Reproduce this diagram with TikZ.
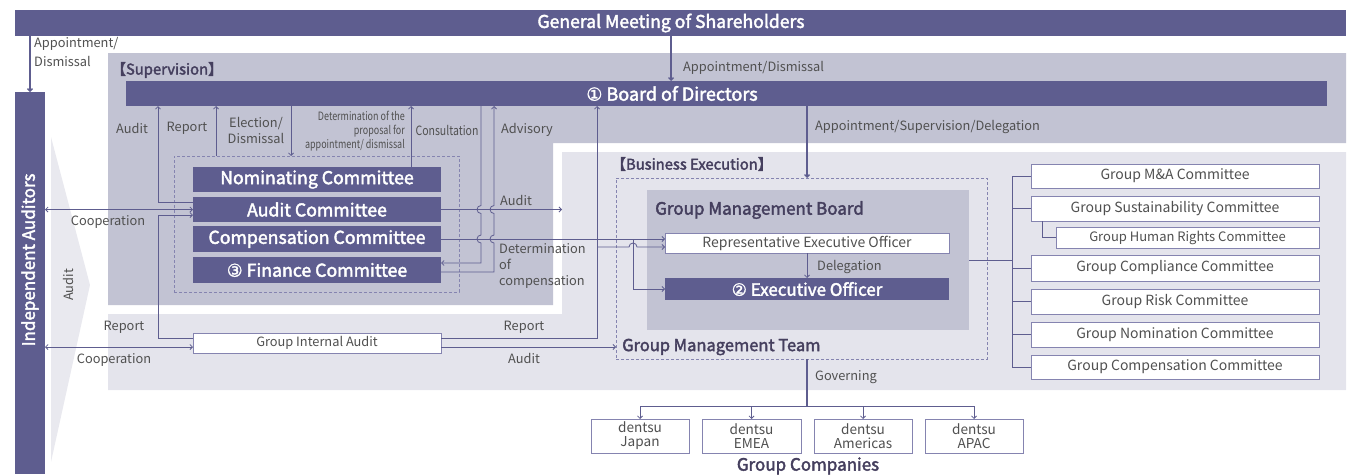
\documentclass[tikz,border=0pt]{standalone}
\usepackage{fontspec}
\setmainfont{Noto Sans CJK JP}
\newfontfamily\djv[FakeBold=1.5]{DejaVu Sans}
\newfontfamily\mfont[FakeBold=2.3]{Noto Sans CJK JP}
\usetikzlibrary{arrows.meta}
\definecolor{dk}{HTML}{5E5D8F}
\definecolor{supc}{HTML}{C2C3D3}
\definecolor{busc}{HTML}{E4E4EC}
\definecolor{chevc}{HTML}{E9E9EF}
\definecolor{lnc}{HTML}{5E5D8F}
\definecolor{bxc}{HTML}{8584B0}
\definecolor{txt}{HTML}{505050}
\definecolor{ttl}{HTML}{453F5E}
\newcommand{\fs}[1]{\fontsize{#1}{#1}\selectfont}
\newcommand{\cnum}[1]{{\djv #1}}
\tikzset{
  bar/.style={fill=dk, draw=none, inner sep=0, outer sep=0, text=white, font=\mfont\fs{17}},
  wbox/.style={fill=white, draw=bxc, line width=0.9pt, inner sep=0, outer sep=0, text=txt, font=\fs{14}},
  dbox/.style={draw=bxc, dashed, dash pattern=on 3pt off 2pt, line width=0.8pt, inner sep=0, outer sep=0},
  lab/.style={font=\fontsize{12.8}{16}\selectfont, text=txt, inner sep=0},
  ttlt/.style={font=\mfont\fs{16.5}, text=ttl, inner sep=0},
  conn/.style={draw=lnc, line width=0.8pt, >={Straight Barb[length=2.5pt,width=5pt]}},
  connT/.style={conn, line width=1.4pt},
}
\begin{document}
\begin{tikzpicture}[x=1pt,y=-1pt]
\useasboundingbox (0,0) rectangle (1351,474);
% panels
\fill[supc] (108,53) -- (1346,53) -- (1346,143) -- (553,143) -- (553,305) -- (108,305) -- cycle;
\fill[busc] (562,152) -- (1346,152) -- (1346,390) -- (108,390) -- (108,314) -- (562,314) -- cycle;
\fill[chevc] (51,137) -- (90,285) -- (51,462) -- cycle;

% top bars
\node[bar, minimum width=1331pt, minimum height=26pt] (gms) at (680.5,23) {};
\node[text=white, font=\mfont\fs{17.6}, inner sep=0] (gmsT) at (671,23) {General Meeting of Shareholders};
\node[bar, minimum width=30pt, minimum height=382pt] (ia) at (30,283) {};
\node[text=white, font=\mfont\fs{17}, inner sep=0, rotate=90] (iaT) at (30,260) {Independent Auditors};
\node[lab, rotate=90] (auditV) at (68,285) {Audit};

\node[ttlt, anchor=west, font=\mfont\fs{14.8}] (supT) at (111,70) {【Supervision】};
\node[bar, minimum width=1201pt, minimum height=25pt] (bod) at (726.5,93.5) {};
\node[text=white, font=\mfont\fs{18}, inner sep=0] (bodT) at (672,93.5) {\cnum{①} Board of Directors};

% committees
\node[dbox, minimum width=285pt, minimum height=136pt] (cbox) at (316.5,224) {};
\node[bar, minimum width=248pt, minimum height=25pt, font=\mfont\fs{17.7}] (nom) at (317,179.5) {Nominating Committee};
\node[bar, minimum width=248pt, minimum height=25pt, font=\mfont\fs{17.7}] (aud) at (317,209.5) {Audit Committee};
\node[bar, minimum width=248pt, minimum height=26pt, font=\mfont\fs{17.7}] (comp) at (317,239) {Compensation Committee};
\node[bar, minimum width=248pt, minimum height=26pt, font=\mfont\fs{17.7}] (fin) at (317,270) {\cnum{③} Finance Committee};
\node[wbox, minimum width=248pt, minimum height=20pt, font=\fs{12.8}] (gia) at (317,343) {Group Internal Audit};

% business execution
\node[ttlt, anchor=west, font=\mfont\fs{14.8}] (bexT) at (611,164) {【Business Execution】};
\node[dbox, minimum width=371pt, minimum height=181pt] (gmt) at (801.5,268.5) {};
\node[ttlt, anchor=west] (gmtT) at (622,347) {Group Management Team};
\node[fill=supc, inner sep=0, outer sep=0, minimum width=322pt, minimum height=140pt] (gmb) at (808,260) {};
\node[ttlt, anchor=west, font=\mfont\fs{17}] (gmbT) at (655,210) {Group Management Board};
\node[wbox, minimum width=284pt, minimum height=20pt] (rep) at (807,243) {Representative Executive Officer};
\node[bar, minimum width=284pt, minimum height=22pt] (exo) at (807,289) {\cnum{②} Executive Officer};

% right committees
\node[wbox, minimum width=288pt, minimum height=24pt] (ma) at (1175,176) {Group M\&A Committee};
\node[wbox, minimum width=288pt, minimum height=25pt] (sus) at (1175,208.5) {Group Sustainability Committee};
\node[wbox, minimum width=263pt, minimum height=21pt, font=\fs{13}] (hr) at (1187.5,237.5) {Group Human Rights Committee};
\node[wbox, minimum width=288pt, minimum height=26pt] (cmp) at (1175,268) {Group Compliance Committee};
\node[wbox, minimum width=288pt, minimum height=25pt] (risk) at (1175,301.5) {Group Risk Committee};
\node[wbox, minimum width=288pt, minimum height=25pt] (nomc) at (1175,334.5) {Group Nomination Committee};
\node[wbox, minimum width=288pt, minimum height=24pt] (compc) at (1175,367) {Group Compensation Committee};

% group companies
\node[wbox, minimum width=98pt, minimum height=34pt, align=center, font=\fontsize{13.6}{14}\selectfont] (jp) at (640,436) {dentsu\\Japan};
\node[wbox, minimum width=99pt, minimum height=34pt, align=center, font=\fontsize{13.6}{14}\selectfont] (emea) at (751.5,436) {dentsu\\EMEA};
\node[wbox, minimum width=98pt, minimum height=34pt, align=center, font=\fontsize{13.6}{14}\selectfont] (am) at (863,436) {dentsu\\Americas};
\node[wbox, minimum width=98pt, minimum height=34pt, align=center, font=\fontsize{13.6}{14}\selectfont] (apac) at (974,436) {dentsu\\APAC};
\node[ttlt, font=\mfont\fs{17}] (gcT) at (808,466) {Group Companies};

% labels
\node[lab, anchor=north west, align=left, font=\fontsize{12.8}{19}\selectfont] (lApp) at (34,37) {Appointment/\\Dismissal};
\node[lab, anchor=west] (lApp2) at (683,68) {Appointment/Dismissal};
\node[lab, anchor=west] (lApp3) at (815,127) {Appointment/Supervision/Delegation};
\node[lab] (lAud1) at (132,128) {Audit};
\node[lab] (lRep1) at (187,128) {Report};
\node[lab, align=center] (lEl) at (256,130.5) {Election/\\Dismissal};
\node[lab, anchor=east, align=right, font=\fontsize{11.5}{14}\selectfont] (lDet) at (405,131) {\scalebox{0.78}[1]{Determination of the}\\\scalebox{0.78}[1]{proposal for}\\\scalebox{0.78}[1]{appointment/ dismissal}};
\node[lab] (lCon) at (447,130) {\scalebox{0.82}[1]{Consultation}};
\node[lab, anchor=west] (lAdv) at (501,130) {Advisory};
\node[lab] (lAud2) at (516,200) {Audit};
\node[lab, anchor=north west, align=left] (lDc) at (499,243) {Determination\\of\\compensation};
\node[lab] (lCoop1) at (108,222) {Cooperation};
\node[lab] (lRep2) at (124,327) {Report};
\node[lab] (lCoop2) at (114,360) {Cooperation};
\node[lab] (lRep3) at (524,327) {Report};
\node[lab] (lAud3) at (524,358) {Audit};
\node[lab, anchor=west] (lDel) at (817,267) {Delegation};
\node[lab, anchor=west] (lGov) at (815,377) {Governing};

\coordinate (bexEdge) at (562,209.5);
\coordinate (busTop) at (1012,176);

% connectors
\draw[connT,->] (gms.south -| ia.north) -- (ia.north);
\draw[connT,->] (gms.south -| gmsT) -- (bod.north -| gmsT);
\draw[connT,->] (bod.south -| rep.north) -- (gmt.north -| rep.north);

\draw[conn,->] (aud.west |- 0,202) -- (158,202) -- (bod.south -| 158,0);
\draw[conn,->] (gia.west |- 0,338) -- (158,338) -- (158,215) -- (aud.west |- 0,215);
\draw[conn,->] (cbox.north -| 216,0) -- (bod.south -| 216,0);
\draw[conn,->] (bod.south -| 291,0) -- (cbox.north -| 291,0);
\draw[conn,->] (nom.north -| 411,0) -- (bod.south -| 411,0);
\draw[conn,->] (bod.south -| 481,0) -- (481,205.5) arc(270:90:4) -- (481,235) arc(270:90:4) -- (481,263) -- (fin.east |- 0,263);
\draw[conn,->] (fin.east |- 0,272) -- (494,272) -- (494,243) arc(90:270:4) -- (494,213.5) arc(90:270:4) -- (bod.south -| 494,0);

\draw[conn,<->] (ia.east |- aud.west) -- (aud.west);
\draw[conn,->] (aud.east) -- (bexEdge);
\draw[conn,->] (comp.east) -- (rep.west |- comp.east);
\draw[conn,->] (633,239) -- (633,289) -- (exo.west);
\draw[conn,->] (gia.east |- 0,338) -- (597,338) -- (bod.south -| 597,0);
\draw[conn,->] (597,247) -- (629,247) arc(180:360:4) -- (rep.west |- 0,247);
\draw[conn,->] (gia.east |- 0,347) -- (gmt.west |- 0,347);
\draw[conn,<->] (ia.east |- 0,347) -- (gia.west |- 0,347);
\draw[conn,->] (rep.south) -- (exo.north);

\draw[conn] (gmb.east) -- (gmb.east -| busTop);
\draw[conn] (ma.west) -- (busTop) -- (compc.west -| busTop) -- (compc.west);
\foreach \n in {sus,cmp,risk,nomc} \draw[conn] (\n.west) -- (\n.west -| busTop);
\draw[conn] (sus.south -| 1042,0) |- (hr.west);

\draw[connT] (gmt.south -| rep.south) -- (rep.south |- 0,406);
\draw[conn] (jp.north |- 0,406) -- (apac.north |- 0,406);
\foreach \n in {jp,emea,am,apac} \draw[conn,->] (\n.north |- 0,406) -- (\n.north);
\end{tikzpicture}
\end{document}
